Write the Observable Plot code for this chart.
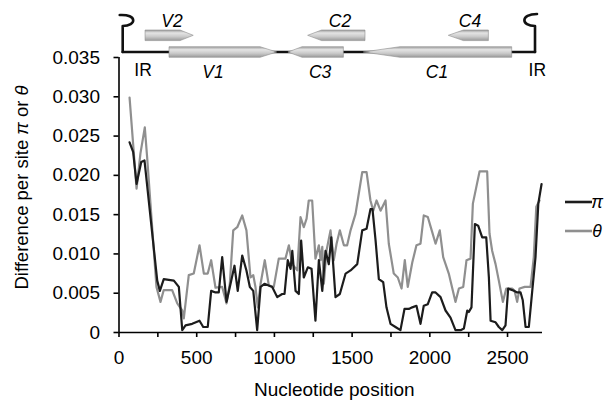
<!DOCTYPE html>
<html><head><meta charset="utf-8">
<script src="https://cdn.jsdelivr.net/npm/d3@7"></script>
<script src="https://cdn.jsdelivr.net/npm/@observablehq/plot@0.6"></script>
<style>
html,body{margin:0;padding:0;background:#fff;}
#chart{width:605px;height:403px;}
</style></head><body><div id="chart"></div>
<script>
// ---- data (nucleotide position, difference per site) ----
const thetaPos = [68,113,138,166,181,241,267,288,342,375,407,417,449,481,518,546,571,593,621,664,692,713,735,761,793,820,846,864,878,893,911,938,964,996,1028,1071,1093,1115,1147,1168,1189,1207,1221,1243,1264,1286,1297,1308,1318,1335,1361,1382,1400,1421,1447,1468,1490,1522,1565,1593,1618,1636,1657,1683,1715,1736,1768,1794,1818,1839,1858,1887,1914,1940,1961,1987,2015,2037,2064,2086,2122,2165,2187,2215,2236,2262,2277,2299,2320,2369,2384,2401,2423,2444,2470,2492,2530,2545,2562,2577,2611,2648,2669,2685,2706];
const thetaVal = [.0299,.0183,.0228,.0261,.0223,.0058,.0039,.0054,.0054,.0037,.0028,.0018,.0073,.0075,.0111,.0075,.0075,.0092,.0057,.0058,.0037,.0062,.0130,.0134,.0149,.0130,.0070,.0073,.0058,.0032,.0062,.0092,.0060,.0058,.0094,.0094,.0111,.0087,.0079,.0147,.0134,.0145,.0168,.0168,.0094,.0111,.0092,.0109,.0062,.0104,.0130,.0092,.0113,.0130,.0111,.0111,.0130,.0151,.0204,.0204,.0168,.0155,.0168,.0155,.0168,.0113,.0075,.0070,.0056,.0092,.0058,.0089,.0111,.0113,.0149,.0147,.0128,.0113,.0130,.0096,.0075,.0039,.0056,.0058,.0092,.0094,.0164,.0185,.0205,.0205,.0126,.0104,.0087,.0066,.0039,.0056,.0056,.0053,.0039,.0056,.0058,.0058,.0096,.0160,.0168];
const piPos = [68,91,113,143,164,246,263,288,353,385,407,428,471,518,542,571,593,621,642,664,692,722,743,764,793,820,842,864,889,911,936,986,1018,1050,1065,1086,1104,1115,1136,1157,1172,1189,1215,1239,1264,1286,1308,1329,1350,1366,1393,1421,1458,1490,1533,1565,1593,1618,1631,1651,1672,1700,1721,1747,1779,1811,1837,1865,1887,1914,1940,1961,1987,2015,2037,2069,2101,2133,2165,2198,2219,2241,2251,2268,2290,2311,2337,2363,2380,2391,2423,2444,2466,2487,2504,2541,2562,2584,2598,2616,2637,2659,2680,2698,2719];
const piVal = [.0242,.0230,.0189,.0217,.0219,.0066,.0053,.0068,.0066,.0058,.0003,.0009,.0011,.0015,.0007,.0007,.0053,.0051,.0051,.0096,.0039,.0066,.0085,.0053,.0098,.0079,.0058,.0053,.0003,.0058,.0062,.0058,.0045,.0049,.0049,.0092,.0081,.0104,.0053,.0049,.0117,.0070,.0083,.0081,.0015,.0092,.0053,.0104,.0087,.0121,.0045,.0049,.0075,.0079,.0087,.0130,.0132,.0157,.0157,.0117,.0068,.0064,.0032,.0011,.0007,.0003,.0030,.0030,.0032,.0034,.0011,.0034,.0036,.0051,.0051,.0045,.0028,.0019,.0003,.0003,.0005,.0028,.0026,.0032,.0138,.0136,.0121,.0121,.0070,.0015,.0013,.0007,.0003,.0009,.0056,.0053,.0051,.0051,.0041,.0007,.0007,.0053,.0096,.0164,.0189];
const seriesNames = ["π", "θ"];

// axis ticks
const xTicks = [0,250,500,750,1000,1250,1500,1750,2000,2250,2500];
const xDomain = [0, 2725];
const yTicks = [0,0.005,0.010,0.015,0.020,0.025,0.030,0.035];
const yDomain = [0, 0.035];

// genome map (nucleotide coordinates)
const geneNames = ["V2","V1","C3","C2","C1","C4"];
const geneFrom  = [171, 325, 1447, 1586, 2530, 2380];
const geneHead  = [396, 911, 1181, 1307, 1811, 2219];
const geneTip   = [481, 1018, 1090, 1217, 1575, 2122];
const geneRow   = ["upper","main","main","upper","main","upper"];
const geneLabelPos = [344, 608, 1297, 1425, 2049, 2262];
const irPos = [27, 2680];
const irLabelPos = [158, 2695];

const thetaData = thetaPos.map((p, i) => ({pos: p, val: thetaVal[i]}));
const piData = piPos.map((p, i) => ({pos: p, val: piVal[i]}));

const FONT = "'Liberation Sans', Arial, Helvetica, sans-serif";

function genomeMap(index, scales, values, dim) {
  const sx = scales.x;
  const top = dim.marginTop;
  const mainY = top - 5, upperY = top - 21.7, hh = 5.3, stemTop = top - 31;
  const g = d3.create("svg:g");
  const grad = g.append("defs").append("linearGradient")
    .attr("id", "geneFill").attr("x1", 0).attr("y1", 0).attr("x2", 0).attr("y2", 1);
  [[0,"#9c9c9c"],[0.28,"#e4e4e4"],[0.62,"#cacaca"],[1,"#9a9a9a"]]
    .forEach(([o, c]) => grad.append("stop").attr("offset", o).attr("stop-color", c));
  const x0 = sx(irPos[0]), x1 = sx(irPos[1]);
  const ink = g.append("g").attr("fill", "none").attr("stroke", "#111")
    .attr("stroke-width", 2.6).attr("stroke-linejoin", "round").attr("stroke-linecap", "round");
  ink.append("path").attr("d", `M${x0},${mainY}H${x1}`);
  ink.append("path").attr("d", `M${x0},${mainY}V${stemTop}C${x0+14},${stemTop} ${x0+15},${stemTop-12} ${x0-3},${stemTop-11}`);
  ink.append("path").attr("d", `M${x1},${mainY}V${stemTop}C${x1-14},${stemTop} ${x1-15},${stemTop-12} ${x1+2},${stemTop-12}`);
  geneNames.forEach((name, i) => {
    const c = geneRow[i] === "upper" ? upperY : mainY;
    const f = sx(geneFrom[i]), h = sx(geneHead[i]), t = sx(geneTip[i]);
    g.append("path")
      .attr("d", `M${f},${c-hh}L${h},${c-hh}L${t},${c}L${h},${c+hh}L${f},${c+hh}Z`)
      .attr("fill", "url(#geneFill)").attr("stroke", "#8d8d8d").attr("stroke-width", 0.6);
    g.append("text")
      .attr("x", sx(geneLabelPos[i]))
      .attr("y", geneRow[i] === "upper" ? top - 36 : top + 14.5)
      .attr("text-anchor", "middle").attr("dominant-baseline", "central")
      .attr("font-style", "italic").attr("font-size", 17.5).attr("fill", "#000")
      .text(name);
  });
  irLabelPos.forEach(p => {
    g.append("text").attr("x", sx(p)).attr("y", top + 12.5)
      .attr("text-anchor", "middle").attr("dominant-baseline", "central")
      .attr("font-size", 17.5).attr("fill", "#000").text("IR");
  });
  return g.node();
}

function annotations(index, scales, values, dim) {
  const g = d3.create("svg:g").attr("fill", "#000");
  const frameMidX = (dim.marginLeft + dim.width - dim.marginRight) / 2;
  const frameMidY = (dim.marginTop + dim.height - dim.marginBottom) / 2;
  // x title
  g.append("text").attr("x", frameMidX + 4).attr("y", dim.height - 7)
    .attr("text-anchor", "middle").attr("font-size", 19).text("Nucleotide position");
  // y title
  const yt = g.append("text")
    .attr("transform", `translate(28,${frameMidY - 7}) rotate(-90)`)
    .attr("text-anchor", "middle").attr("font-size", 18.5);
  yt.append("tspan").text("Difference per site ");
  yt.append("tspan").attr("font-style", "italic").text(seriesNames[0]);
  yt.append("tspan").text(" or ");
  yt.append("tspan").attr("font-style", "italic").text(seriesNames[1]);
  // legend
  const colors = ["#1c1c1c", "#8f8f8f"];
  const lx = dim.width - 40;
  seriesNames.forEach((s, i) => {
    const ly = 202 + i * 29;
    g.append("line").attr("x1", lx).attr("x2", lx + 27).attr("y1", ly).attr("y2", ly)
      .attr("stroke", colors[i]).attr("stroke-width", 2.6);
    g.append("text").attr("x", lx + 32).attr("y", ly).attr("dominant-baseline", "central")
      .attr("font-style", "italic").attr("font-size", 17.5).text(s);
  });
  return g.node();
}

const chart = Plot.plot({
  width: 605, height: 403,
  marginLeft: 118.5, marginRight: 63, marginTop: 57, marginBottom: 71,
  style: {fontFamily: FONT, fontSize: "19px", color: "#000", background: "#fff", overflow: "visible"},
  x: {domain: xDomain},
  y: {domain: yDomain},
  marks: [
    Plot.axisX({ticks: xTicks, tickFormat: d => d % 500 === 0 ? String(d) : "", tickSize: 5, tickPadding: 13, label: null, strokeWidth: 1.6}),
    Plot.axisY({ticks: yTicks, tickFormat: d => d === 0 ? "0" : d.toFixed(3), tickSize: 5, tickPadding: 14, label: null, strokeWidth: 1.6}),
    Plot.ruleY([0], {strokeWidth: 1.6}),
    Plot.ruleX([0], {strokeWidth: 1.6}),
    Plot.line(thetaData, {x: "pos", y: "val", stroke: "#8f8f8f", strokeWidth: 2.2, strokeLinejoin: "round"}),
    Plot.line(piData, {x: "pos", y: "val", stroke: "#1c1c1c", strokeWidth: 2.2, strokeLinejoin: "round"}),
    genomeMap,
    annotations
  ]
});
document.getElementById("chart").appendChild(chart);
</script>
</body></html>
